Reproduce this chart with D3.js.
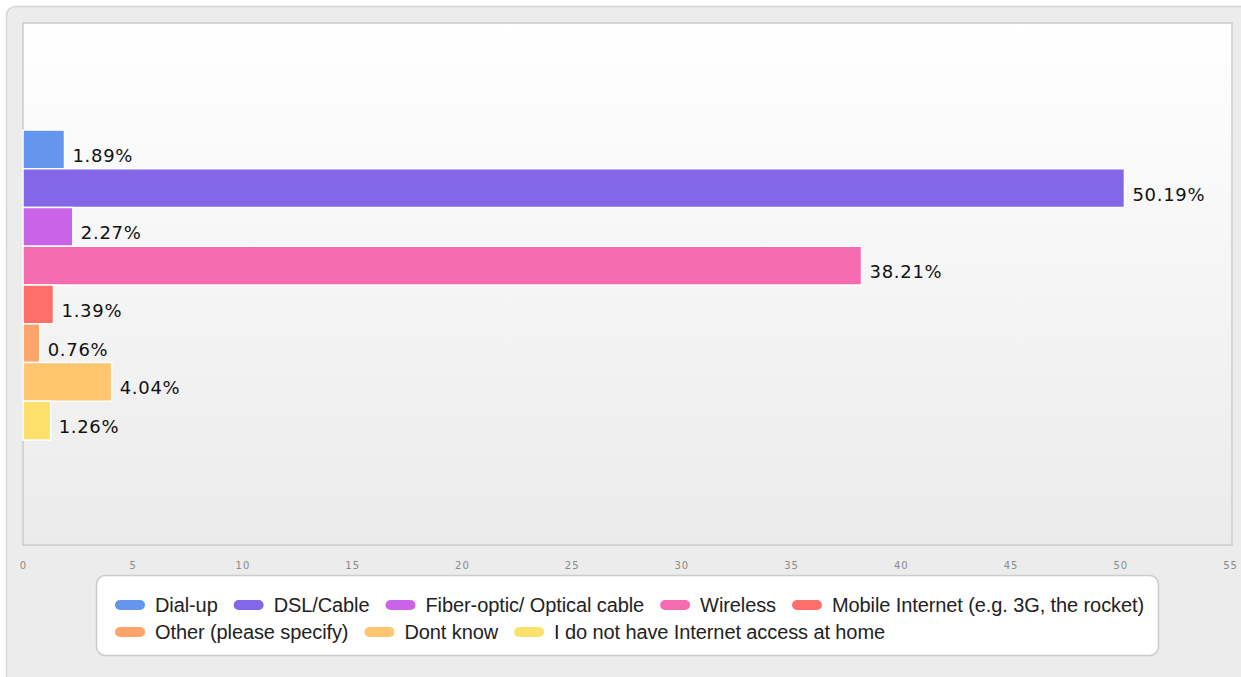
<!DOCTYPE html>
<html>
<head>
<meta charset="utf-8">
<script src="https://cdn.jsdelivr.net/npm/d3@7"></script>
<style>
  html, body { margin: 0; padding: 0; background: #ffffff; }
  svg { display: block; }
</style>
</head>
<body>
<svg id="chart" width="1241" height="677"></svg>
<script>
// Home internet connection type, share of respondents (%)
const categories = [
  "Dial-up",
  "DSL/Cable",
  "Fiber-optic/ Optical cable",
  "Wireless",
  "Mobile Internet (e.g. 3G, the rocket)",
  "Other (please specify)",
  "Dont know",
  "I do not have Internet access at home"
];
const values = [1.89, 50.19, 2.27, 38.21, 1.39, 0.76, 4.04, 1.26];
const colors = ["#6595ec", "#8466e9", "#c963e8", "#f56bb0", "#ff6e6a", "#ffa56b", "#ffc56f", "#ffe06d"];
const tickValues = [0, 5, 10, 15, 20, 25, 30, 35, 40, 45, 50, 55];

const svg = d3.select("#chart");

// Outer panel (runs off the right and bottom edges)
svg.append("rect")
  .attr("x", 6.5).attr("y", 6.5)
  .attr("width", 1260).attr("height", 700)
  .attr("rx", 9)
  .attr("fill", "#ececec")
  .attr("stroke", "#d6d6d6")
  .attr("stroke-width", 1.5);

// Plot area
const plot = { left: 23, top: 23, right: 1232, bottom: 545 };

const defs = svg.append("defs");
const grad = defs.append("linearGradient")
  .attr("id", "plotBg").attr("x1", 0).attr("y1", 0).attr("x2", 0).attr("y2", 1);
grad.append("stop").attr("offset", "0%").attr("stop-color", "#ffffff");
grad.append("stop").attr("offset", "100%").attr("stop-color", "#ebebeb");

svg.append("rect")
  .attr("x", plot.left).attr("y", plot.top)
  .attr("width", plot.right - plot.left).attr("height", plot.bottom - plot.top)
  .attr("fill", "url(#plotBg)")
  .attr("stroke", "#cccccc")
  .attr("stroke-width", 1.5);

const x = d3.scaleLinear().domain([0, 55]).range([plot.left, 1230]);

const y = d3.scaleBand()
  .domain(categories)
  .range([130, 440])
  .paddingInner(0)
  .paddingOuter(0);

// Bars
svg.append("g")
  .selectAll("rect")
  .data(values)
  .join("rect")
  .attr("x", x(0))
  .attr("y", (d, i) => y(categories[i]))
  .attr("width", d => x(d) - x(0))
  .attr("height", y.bandwidth())
  .attr("fill", (d, i) => colors[i])
  .attr("stroke", "#ffffff")
  .attr("stroke-width", 1.5);

// Value labels
svg.append("g")
  .selectAll("text")
  .data(values)
  .join("text")
  .attr("x", d => x(d) + 8)
  .attr("y", (d, i) => y(categories[i]) + y.bandwidth() - 7)
  .attr("font-family", "'DejaVu Sans', Verdana, sans-serif")
  .attr("font-size", 18)
  .attr("letter-spacing", 0.7)
  .attr("fill", "#111111")
  .text(d => d.toFixed(2) + "%");

// X axis tick labels
const axis = d3.axisBottom(x).tickValues(tickValues).tickSize(0).tickPadding(0);
const axisG = svg.append("g")
  .attr("transform", `translate(0, 562)`)
  .call(axis);
axisG.select(".domain").remove();
axisG.selectAll("text")
  .attr("font-family", "'DejaVu Sans', Verdana, sans-serif")
  .attr("font-size", 10)
  .attr("letter-spacing", 1)
  .attr("fill", "#8a8a8a");

// Legend
const legend = { x: 96.5, y: 575.5, w: 1062, h: 80 };
svg.append("rect")
  .attr("x", legend.x).attr("y", legend.y)
  .attr("width", legend.w).attr("height", legend.h)
  .attr("rx", 9)
  .attr("fill", "#ffffff")
  .attr("stroke", "#cccccc")
  .attr("stroke-width", 1.5);

const legendG = svg.append("g");
const rowY = [605, 632];
const startX = 115;
const maxX = legend.x + legend.w - 12;
let cx = startX, row = 0;
categories.forEach((name, i) => {
  const item = legendG.append("g");
  item.append("rect")
    .attr("x", 0).attr("y", -5)
    .attr("width", 30).attr("height", 10)
    .attr("rx", 5)
    .attr("fill", colors[i]);
  const t = item.append("text")
    .attr("x", 40).attr("y", 7)
    .attr("font-family", "'Liberation Sans', Arial, sans-serif")
    .attr("font-size", 20)
    .attr("letter-spacing", -0.1)
    .attr("fill", "#222222")
    .text(name);
  const w = 40 + t.node().getComputedTextLength();
  if (cx + w > maxX) { row += 1; cx = startX; }
  item.attr("transform", `translate(${cx}, ${rowY[row]})`);
  cx += w + 16;
});
</script>
</body>
</html>
